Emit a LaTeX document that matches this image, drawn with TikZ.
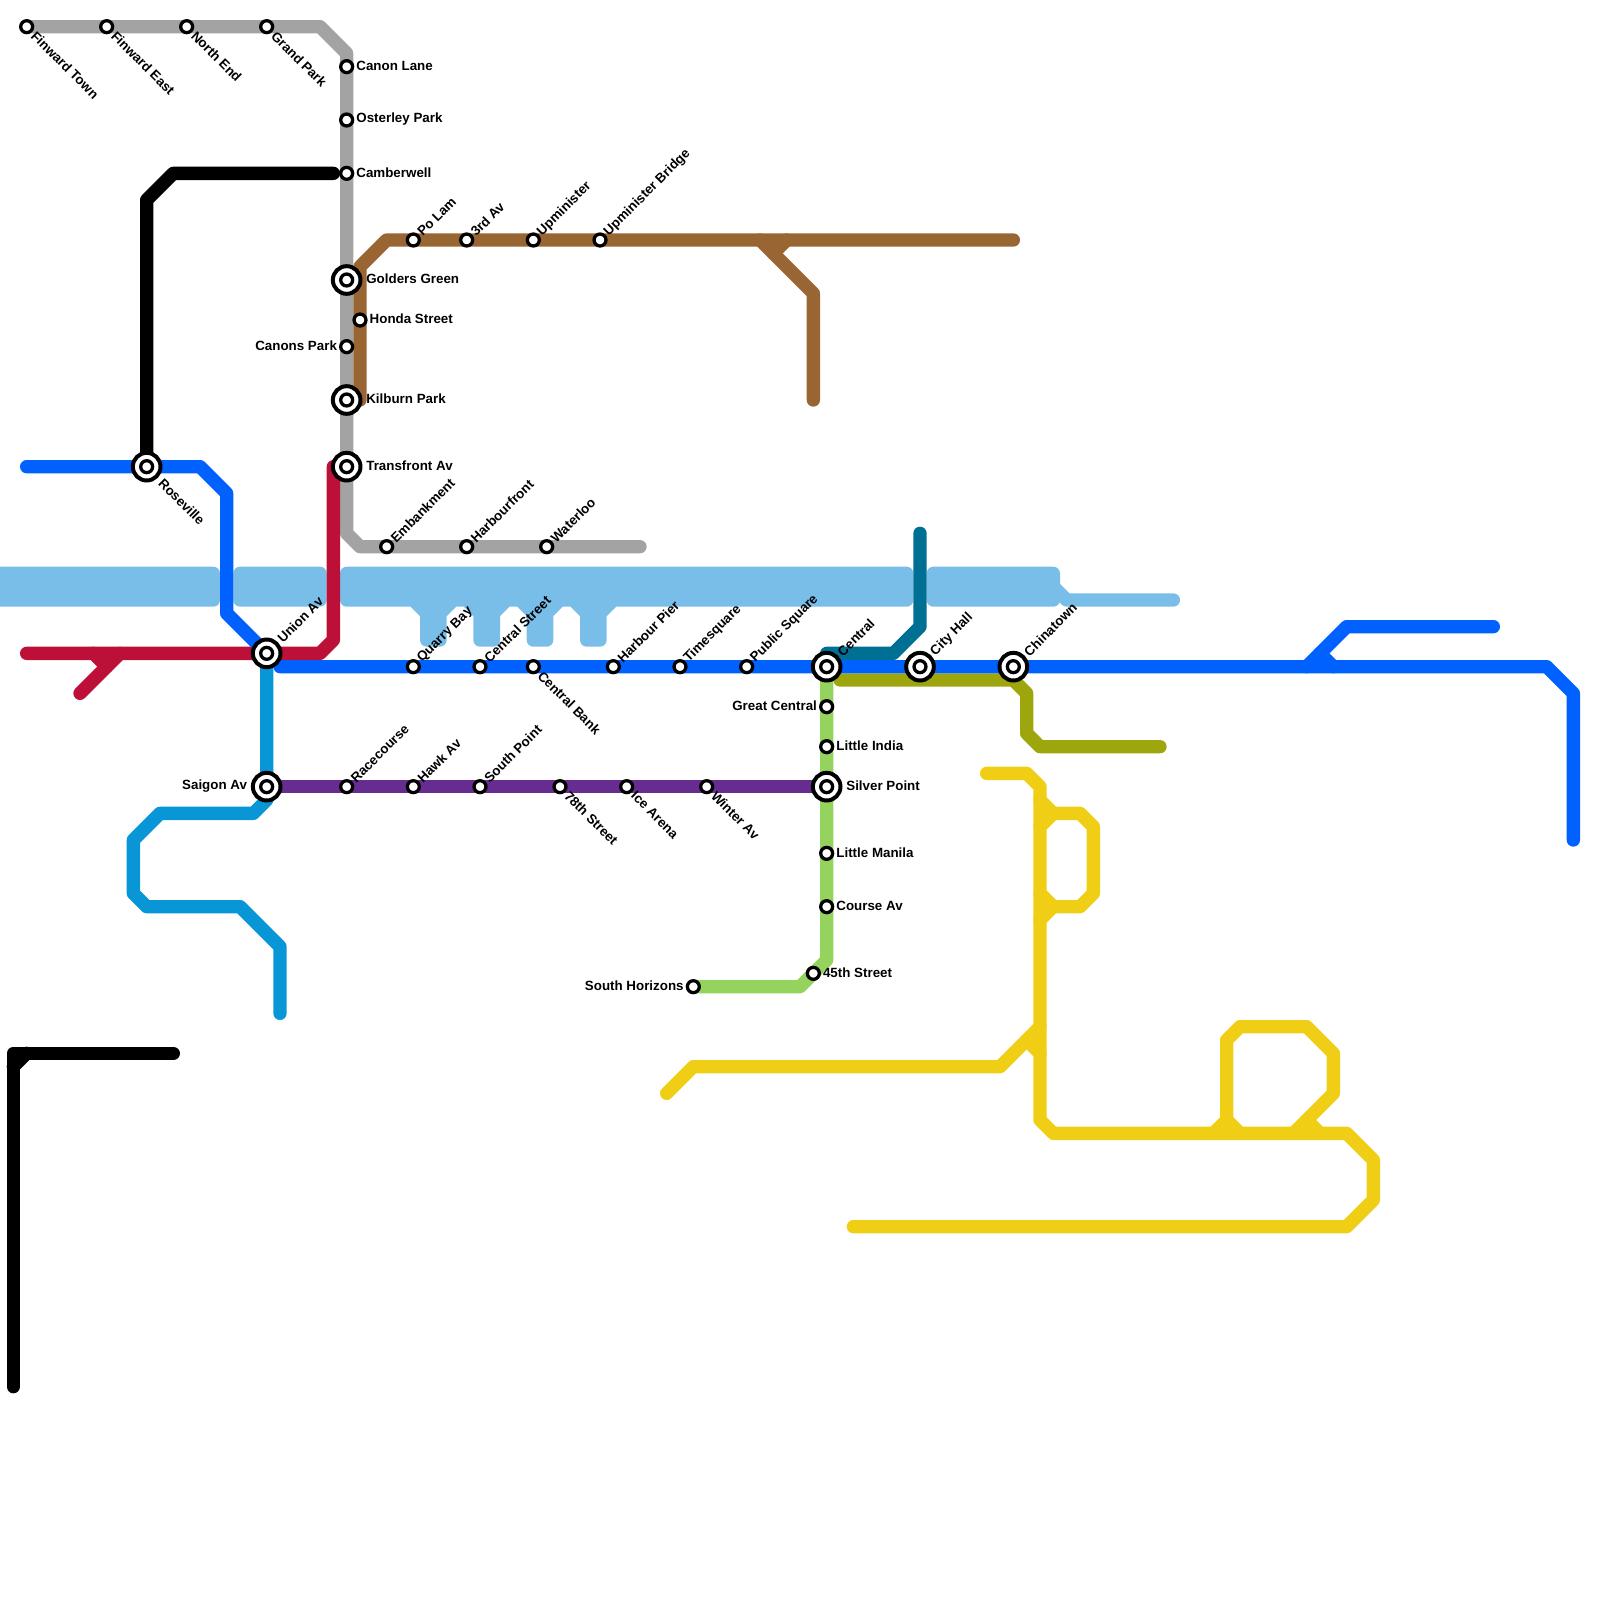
\documentclass[tikz,border=0pt]{standalone}
\usepackage{fontspec}
\setmainfont{Liberation Sans}
\usetikzlibrary{backgrounds,positioning}
\definecolor{rivercol}{HTML}{79BDE9}
\definecolor{greycol}{HTML}{A3A3A3}
\definecolor{browncol}{HTML}{996633}
\definecolor{blackcol}{HTML}{000000}
\definecolor{bluecol}{HTML}{0061FF}
\definecolor{redcol}{HTML}{BD1038}
\definecolor{cyancol}{HTML}{0896D7}
\definecolor{purplecol}{HTML}{662C90}
\definecolor{greencol}{HTML}{95D35F}
\definecolor{tealcol}{HTML}{006F94}
\definecolor{olivecol}{HTML}{9EA60E}
\definecolor{yellowcol}{HTML}{F0CE15}
\tikzset{
  stopbase/.style={circle,draw=black,fill=white,inner sep=0pt,outer sep=0pt},
  stop/.style={stopbase,line width=2.8pt,minimum size=10.2pt},
  hub/.style={stopbase,line width=3.4pt,minimum size=23.6pt,label={[stop]center:}},
  lab/.style={inner sep=0pt,font=\bfseries\fontsize{11.4}{13}\selectfont},
  rlab/.style={lab,anchor=west,yshift=.9pt},
  llab/.style={lab,anchor=east,yshift=.9pt},
  uplab/.style={lab,rotate=45,anchor=west,xshift=7.5pt},
  dnlab/.style={lab,rotate=-45,anchor=west,xshift=8.2pt},
  uphub/.style={lab,rotate=45,anchor=west,xshift=15.5pt},
  dnhub/.style={lab,rotate=-45,anchor=west,xshift=17pt},
  metro/.style={line width=.4cm,line cap=round,line join=round},
  river/.style={metro,rivercol},
  riverband/.style={fill=rivercol,rounded corners=5.7pt},
}
\begin{document}
\begin{tikzpicture}[x=.4cm,y=-.4cm]
\useasboundingbox (0,0) rectangle (120,120);

% stations
\node[stop] (fwtown) at (2,2) {};
\node[stop] (fweast) at (8,2) {};
\node[stop] (northend) at (14,2) {};
\node[stop] (grandpark) at (20,2) {};
\node[stop] (canonlane) at (26,5) {};
\node[stop] (osterley) at (26,9) {};
\node[stop] (camberwell) at (26,13) {};
\node[hub] (golders) at (26,21) {};
\node[stop] (honda) at (27,24) {};
\node[stop] (canons) at (26,26) {};
\node[hub] (kilburn) at (26,30) {};
\node[hub] (transfront) at (26,35) {};
\node[stop] (embank) at (29,41) {};
\node[stop] (harbourfront) at (35,41) {};
\node[stop] (waterloo) at (41,41) {};
\node[stop] (polam) at (31,18) {};
\node[stop] (third) at (35,18) {};
\node[stop] (upmin) at (40,18) {};
\node[stop] (upminbr) at (45,18) {};
\node[hub] (roseville) at (11,35) {};
\node[hub] (union) at (20,49) {};
\node[stop] (quarry) at (31,50) {};
\node[stop] (centralst) at (36,50) {};
\node[stop] (centralbk) at (40,50) {};
\node[stop] (harbourpier) at (46,50) {};
\node[stop] (times) at (51,50) {};
\node[stop] (public) at (56,50) {};
\node[hub] (central) at (62,50) {};
\node[hub] (cityhall) at (69,50) {};
\node[hub] (chinatown) at (76,50) {};
\node[hub] (saigon) at (20,59) {};
\node[stop] (race) at (26,59) {};
\node[stop] (hawk) at (31,59) {};
\node[stop] (southpt) at (36,59) {};
\node[stop] (seventyeight) at (42,59) {};
\node[stop] (ice) at (47,59) {};
\node[stop] (winter) at (53,59) {};
\node[hub] (silver) at (62,59) {};
\node[stop] (greatc) at (62,53) {};
\node[stop] (india) at (62,56) {};
\node[stop] (manila) at (62,64) {};
\node[stop] (course) at (62,68) {};
\node[stop] (fortyfive) at (61,73) {};
\node[stop] (horizons) at (52,74) {};

% station names
\node[dnlab] (fwtownT) at (fwtown) {Finward Town};
\node[dnlab] (fweastT) at (fweast) {Finward East};
\node[dnlab] (northendT) at (northend) {North End};
\node[dnlab] (grandparkT) at (grandpark) {Grand Park};
\node[rlab,right=3pt of canonlane] (canonlaneT) {Canon Lane};
\node[rlab,right=3pt of osterley] (osterleyT) {Osterley Park};
\node[rlab,right=3pt of camberwell] (camberwellT) {Camberwell};
\node[rlab,right=4.8pt of golders] (goldersT) {Golders Green};
\node[rlab,right=3pt of honda] (hondaT) {Honda Street};
\node[llab,left=3pt of canons] (canonsT) {Canons Park};
\node[rlab,right=4.8pt of kilburn] (kilburnT) {Kilburn Park};
\node[rlab,right=4.8pt of transfront] (transfrontT) {Transfront Av};
\node[uplab] (embankT) at (embank) {Embankment};
\node[uplab] (harbourfrontT) at (harbourfront) {Harbourfront};
\node[uplab] (waterlooT) at (waterloo) {Waterloo};
\node[uplab] (polamT) at (polam) {Po Lam};
\node[uplab] (thirdT) at (third) {3rd Av};
\node[uplab] (upminT) at (upmin) {Upminister};
\node[uplab] (upminbrT) at (upminbr) {Upminister Bridge};
\node[dnhub] (rosevilleT) at (roseville) {Roseville};
\node[uphub] (unionT) at (union) {Union Av};
\node[uplab] (quarryT) at (quarry) {Quarry Bay};
\node[uplab] (centralstT) at (centralst) {Central Street};
\node[dnlab] (centralbkT) at (centralbk) {Central Bank};
\node[uplab] (harbourpierT) at (harbourpier) {Harbour Pier};
\node[uplab] (timesT) at (times) {Timesquare};
\node[uplab] (publicT) at (public) {Public Square};
\node[uphub] (centralT) at (central) {Central};
\node[uphub] (cityhallT) at (cityhall) {City Hall};
\node[uphub] (chinatownT) at (chinatown) {Chinatown};
\node[llab,left=4.8pt of saigon] (saigonT) {Saigon Av};
\node[uplab] (raceT) at (race) {Racecourse};
\node[uplab] (hawkT) at (hawk) {Hawk Av};
\node[uplab] (southptT) at (southpt) {South Point};
\node[dnlab] (seventyeightT) at (seventyeight) {78th Street};
\node[dnlab] (iceT) at (ice) {Ice Arena};
\node[dnlab] (winterT) at (winter) {Winter Av};
\node[rlab,right=4.8pt of silver] (silverT) {Silver Point};
\node[llab,left=3pt of greatc] (greatcT) {Great Central};
\node[rlab,right=3pt of india] (indiaT) {Little India};
\node[rlab,right=3pt of manila] (manilaT) {Little Manila};
\node[rlab,right=3pt of course] (courseT) {Course Av};
\node[rlab,right=3pt of fortyfive] (fortyfiveT) {45th Street};
\node[llab,left=3pt of horizons] (horizonsT) {South Horizons};

% free line ends
\coordinate (greyend) at (48,41);
\coordinate (brownstart) at (27,30);
\coordinate (brownend) at (76,18);
\coordinate (brownbranch) at (61,30);
\coordinate (blacktop) at (25,13);
\coordinate (blackfoot) at (13,79);
\coordinate (blackbottom) at (1,104);
\coordinate (bluewest) at (2,35);
\coordinate (blueeast) at (118,63);
\coordinate (bluebranch) at (112,47);
\coordinate (redwest) at (2,49);
\coordinate (redtop) at (25,35);
\coordinate (redspur) at (6,52);
\coordinate (cyanend) at (21,76);
\coordinate (tealtop) at (69,40);
\coordinate (oliveend) at (87,56);
\coordinate (yellowa) at (74,58);
\coordinate (yellowb) at (64,92);
\coordinate (yellowc) at (50,82);

\begin{scope}[on background layer]
% river
\path[riverband] (-2,42.5) rectangle (16.5,45.5);
\path[riverband] (17.5,42.5) rectangle (24.5,45.5);
\path[riverband] (25.5,42.5) rectangle (68.5,45.5);
\path[riverband] (69.5,42.5) rectangle (79.5,45.5);
\draw[river] (79,44) -- (80,45) -- (88,45);
\foreach \fingerx in {32,36,40,44} {
  \fill[rivercol] (\fingerx-1.207,45) -- (\fingerx-1.207,45.5) -- (\fingerx-.5,46.207)
    [rounded corners=5.7pt] -- (\fingerx-.5,48.5) -- (\fingerx+1.5,48.5)
    [sharp corners] -- (\fingerx+1.5,46.207) -- (\fingerx+2.207,45.5) -- (\fingerx+2.207,45) -- cycle;
}

% lines
\draw[metro,greycol] (fwtown.center) -- (24,2) -- (26,4) -- (26,40) -- (27,41) -- (greyend);
\draw[metro,browncol] (brownstart) -- (27,20) -- (29,18) -- (brownend);
\draw[metro,browncol] (57,18) -- (61,22) -- (brownbranch);
\draw[metro,browncol] (59,18) -- (58,19);
\draw[metro,blackcol] (blacktop) -- (13,13) -- (11,15) -- (roseville.center);
\draw[metro,blackcol] (blackfoot) -- (1,79) -- (blackbottom);
\draw[metro,blackcol] (1,80) -- (2,79);
\draw[metro,redcol] (redwest) -- (24,49) -- (25,48) -- (redtop);
\draw[metro,redcol] (redspur) -- (9,49);
\draw[metro,redcol] (7,49) -- (8,50);
\draw[metro,cyancol] (union.center) -- (20,60) -- (19,61) -- (12,61) -- (10,63) -- (10,67) -- (11,68) -- (18,68) -- (21,71) -- (cyanend);
\draw[metro,greencol] (central.center) -- (62,72) -- (60,74) -- (horizons.center);
\draw[metro,purplecol] (saigon.center) -- (silver.center);
\draw[metro,tealcol] (central.center) -- (62,49) -- (67,49) -- (69,47) -- (tealtop);
\draw[metro,olivecol] (63,51) -- (76,51) -- (77,52) -- (77,55) -- (78,56) -- (oliveend);
\draw[metro,bluecol] (bluewest) -- (15,35) -- (17,37) -- (17,46) -- (union.center);
\draw[metro,bluecol] (21,50) -- (116,50) -- (118,52) -- (blueeast);
\draw[metro,bluecol] (98,50) -- (101,47) -- (bluebranch);
\draw[metro,bluecol] (99,49) -- (100,50);
% yellow line and its loops
\draw[metro,yellowcol] (yellowa) -- (77,58) -- (78,59) -- (78,84) -- (79,85) -- (101,85) -- (103,87) -- (103,90) -- (101,92) -- (yellowb);
\draw[metro,yellowcol] (78,60) -- (79,61) -- (81,61) -- (82,62) -- (82,67) -- (81,68) -- (79,68) -- (78,67);
\draw[metro,yellowcol] (78,62) -- (79,61);
\draw[metro,yellowcol] (78,69) -- (79,68);
\draw[metro,yellowcol] (yellowc) -- (52,80) -- (75,80) -- (78,77);
\draw[metro,yellowcol] (77,78) -- (78,79);
\draw[metro,yellowcol] (91,85) -- (92,84) -- (92,78) -- (93,77) -- (98,77) -- (100,79) -- (100,82) -- (97,85);
\draw[metro,yellowcol] (92,84) -- (93,85);
\draw[metro,yellowcol] (98,84) -- (99,85);
\end{scope}
\end{tikzpicture}
\end{document}
